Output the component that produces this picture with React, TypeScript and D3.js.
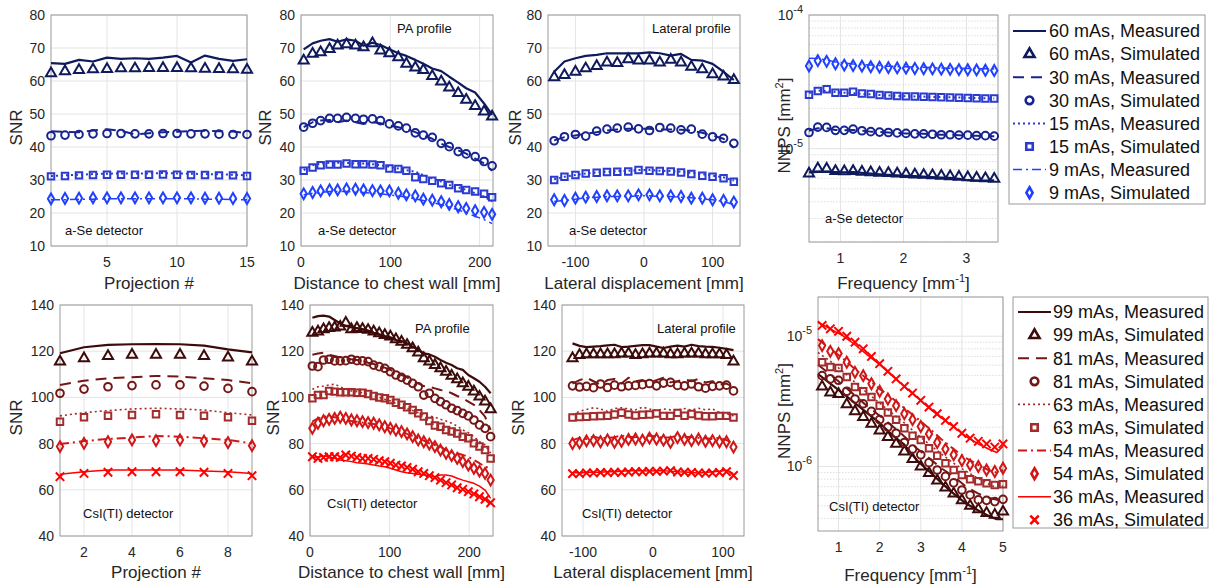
import React from 'react'
import * as d3 from 'd3'

const FONT = '"Liberation Sans", Arial, Helvetica, sans-serif'
const INK = '#262626'
const GRID = '#e4e4e4'
const FRAME = '#9a9a9a'

// ---- series meta ----
const aseDose = ['60', '30', '15', '9']
const csiDose = ['99', '81', '63', '54', '36']
const aseColors = ['#0f1a5c', '#17238e', '#2b3bd0', '#1f40ff']
const csiColors = ['#3e0b0b', '#731616', '#a32b2b', '#d01616', '#ff0000']

// ---- a-Se: SNR vs projection ----
const projA = [1, 2, 3, 4, 5, 6, 7, 8, 9, 10, 11, 12, 13, 14, 15]
const aseProjMeas = [
  [65.4, 65.2, 66.4, 65.9, 67.1, 66.7, 66.9, 66.7, 67.1, 67.6, 65.6, 67.7, 66.7, 66.1, 66.6],
  [44.8, 44.6, 44.5, 45.0, 45.4, 44.9, 43.8, 44.2, 44.5, 44.6, 44.8, 44.9, 44.8, 44.7, 44.2],
  [31.2, 31.4, 31.6, 31.8, 31.9, 32.0, 32.0, 32.0, 32.1, 32.0, 31.9, 31.8, 31.7, 31.6, 31.4],
  [24.0, 24.0, 24.2, 24.2, 24.3, 24.3, 24.3, 24.3, 24.3, 24.3, 24.3, 24.2, 24.2, 24.1, 24.0],
]
const aseProjSim = [
  [62.3, 62.9, 63.3, 63.5, 63.6, 63.8, 63.8, 63.9, 63.9, 63.9, 63.8, 63.7, 63.6, 63.5, 63.4],
  [43.4, 43.6, 43.8, 44.0, 44.1, 44.1, 44.0, 44.0, 44.1, 44.1, 44.0, 44.0, 43.9, 43.8, 43.8],
  [31.1, 31.2, 31.4, 31.5, 31.6, 31.6, 31.6, 31.6, 31.7, 31.6, 31.5, 31.5, 31.4, 31.4, 31.2],
  [24.3, 24.4, 24.5, 24.6, 24.6, 24.6, 24.6, 24.6, 24.6, 24.6, 24.6, 24.5, 24.5, 24.4, 24.4],
]

// ---- a-Se: PA profile ----
const paDistA = [3, 13, 22, 32, 41, 51, 61, 70, 80, 89, 99, 109, 118, 128, 137, 147, 157, 166, 176, 185, 195, 205, 214]
const asePaMeas = [
  [69.6, 71.4, 72.2, 72.7, 71.9, 72.6, 72.2, 70.7, 71.6, 70.9, 69.6, 68.4, 67.6, 66.4, 65.2, 63.8, 63.0, 61.3, 59.5, 57.8, 56.5, 53.2, 49.7],
  [46.0, 47.5, 48.0, 48.2, 47.5, 48.0, 47.5, 47.0, 47.5, 47.2, 46.5, 46.0, 45.5, 44.5, 43.5, 42.5, 41.0, 40.0, 39.0, 38.0, 36.5, 35.0, 32.8],
  [33.0, 34.5, 35.0, 35.2, 35.2, 35.2, 35.0, 35.0, 34.8, 34.5, 34.0, 33.5, 33.0, 32.5, 31.5, 30.5, 29.5, 28.5, 27.8, 27.0, 26.0, 25.0, 23.5],
  [25.5, 26.0, 26.2, 26.5, 26.5, 26.5, 26.3, 26.2, 26.0, 25.8, 25.5, 25.2, 24.8, 24.3, 23.8, 23.2, 22.5, 21.8, 21.0, 20.0, 19.0, 18.0, 16.8],
]
const asePaSim = [
  [66.2, 68.2, 68.7, 69.7, 70.7, 71.1, 70.7, 70.2, 71.4, 69.2, 68.4, 67.2, 65.2, 64.1, 63.3, 61.5, 59.8, 58.0, 56.3, 54.3, 52.4, 50.7, 49.2],
  [46.0, 47.2, 48.0, 48.7, 48.7, 49.0, 48.7, 48.4, 48.5, 48.0, 47.0, 46.4, 45.7, 44.3, 43.6, 42.9, 41.1, 40.1, 38.6, 37.9, 37.1, 35.6, 34.3],
  [32.8, 33.8, 34.5, 34.7, 34.7, 35.0, 34.8, 34.8, 34.7, 34.5, 33.5, 33.3, 32.8, 30.8, 30.3, 29.8, 29.0, 28.5, 27.5, 27.0, 26.5, 25.8, 24.8],
  [25.8, 26.2, 26.7, 27.0, 27.0, 27.3, 27.2, 27.0, 26.8, 26.7, 26.7, 26.0, 25.5, 25.2, 24.2, 23.9, 23.4, 22.6, 21.9, 21.4, 20.7, 20.2, 19.6],
]

// ---- a-Se: lateral profile ----
const latA = [-131, -116, -100, -85, -69, -54, -39, -23, -8, 8, 23, 39, 54, 69, 85, 100, 116, 131]
const aseLatMeas = [
  [62.8, 65.9, 66.9, 67.6, 67.9, 68.4, 68.4, 68.4, 68.4, 68.7, 68.4, 67.7, 68.2, 66.4, 66.2, 65.2, 62.8, 60.3],
  [42.0, 43.0, 43.5, 44.0, 44.5, 45.0, 45.3, 45.5, 45.5, 45.5, 45.3, 45.3, 45.2, 45.0, 44.3, 43.5, 42.5, 39.8],
  [30.2, 31.0, 31.5, 32.0, 32.3, 32.5, 32.7, 32.8, 33.0, 33.0, 32.8, 32.7, 32.5, 32.2, 31.8, 31.3, 30.8, 29.8],
  [23.5, 23.8, 24.2, 24.6, 24.8, 25.0, 25.0, 25.0, 25.2, 25.2, 25.0, 25.0, 24.8, 24.6, 24.3, 24.0, 23.5, 22.5],
]
const aseLatSim = [
  [61.1, 61.8, 62.8, 63.8, 64.5, 65.6, 65.4, 66.6, 66.2, 66.2, 65.6, 66.4, 65.6, 64.3, 63.5, 62.0, 61.3, 60.3],
  [41.9, 43.1, 43.8, 43.3, 44.8, 45.4, 45.7, 46.0, 45.5, 45.0, 45.9, 45.7, 45.2, 45.4, 43.9, 43.1, 42.6, 41.1],
  [30.0, 31.0, 31.5, 32.0, 32.2, 32.4, 32.5, 32.6, 33.0, 32.8, 32.7, 32.6, 32.3, 31.8, 31.3, 31.0, 30.5, 29.5],
  [24.0, 23.8, 24.5, 24.8, 25.0, 25.2, 25.2, 25.2, 25.5, 25.5, 25.2, 25.2, 25.0, 24.5, 24.5, 24.0, 23.8, 23.3],
]

// ---- a-Se: NNPS (units of 1e-6 mm^2) ----
const nnpsFreqA = [0.50, 0.64, 0.78, 0.92, 1.06, 1.20, 1.34, 1.48, 1.62, 1.76, 1.90, 2.04, 2.18, 2.32, 2.46, 2.60, 2.74, 2.88, 3.02, 3.16, 3.30, 3.44]
const aseNnpsMeas = [
  [6.65, 6.70, 6.72, 6.68, 6.65, 6.68, 6.58, 6.50, 6.42, 6.36, 6.30, 6.26, 6.22, 6.18, 6.12, 6.08, 6.04, 5.95, 5.80, 5.75, 5.75, 5.78],
  [13.6, 14.2, 14.2, 13.8, 13.7, 13.8, 13.6, 13.4, 13.3, 13.2, 13.1, 13.0, 13.0, 12.9, 12.8, 12.7, 12.7, 12.6, 12.5, 12.5, 12.4, 12.4],
  [26.0, 27.2, 27.0, 26.5, 26.2, 26.0, 25.7, 25.5, 25.2, 25.0, 24.8, 24.7, 24.6, 24.5, 24.4, 24.3, 24.2, 24.1, 24.0, 23.9, 23.8, 23.7],
  [47.5, 47.2, 46.2, 44.5, 43.8, 43.0, 42.5, 42.2, 41.8, 41.4, 41.2, 41.0, 40.8, 40.6, 40.4, 40.2, 40.0, 39.9, 39.8, 39.7, 39.6, 39.5],
]
const aseNnpsSim = [
  [6.5, 7.1, 7.05, 6.8, 6.75, 6.8, 6.7, 6.65, 6.6, 6.55, 6.5, 6.45, 6.4, 6.35, 6.3, 6.25, 6.2, 6.15, 6.1, 6.05, 6.0, 5.95],
  [13.2, 14.5, 14.4, 13.7, 13.7, 14.0, 13.6, 13.4, 13.3, 13.2, 13.1, 13.0, 12.9, 12.9, 12.8, 12.7, 12.7, 12.6, 12.6, 12.5, 12.5, 12.4],
  [25.3, 27.0, 27.8, 26.2, 26.2, 26.6, 25.8, 25.6, 25.2, 25.0, 24.8, 24.6, 24.5, 24.4, 24.3, 24.2, 24.1, 24.0, 23.9, 23.8, 23.7, 23.7],
  [41.5, 45.5, 45.0, 43.2, 42.2, 41.8, 41.4, 41.0, 40.7, 40.4, 40.2, 40.0, 39.8, 39.6, 39.5, 39.3, 39.2, 39.0, 38.9, 38.8, 38.6, 38.4],
]

// ---- CsI: SNR vs projection ----
const projB = [1, 2, 3, 4, 5, 6, 7, 8, 9]
const csiProjMeas = [
  [119.1, 121.7, 122.7, 123.0, 123.1, 123.0, 122.4, 120.8, 119.5],
  [105.4, 107.2, 108.3, 108.7, 109.3, 109.0, 108.3, 107.5, 106.1],
  [92.0, 93.4, 94.3, 95.0, 95.3, 95.0, 94.5, 93.4, 92.4],
  [79.8, 81.1, 82.0, 82.6, 83.3, 83.0, 82.3, 81.6, 80.1],
  [66.7, 67.8, 68.6, 68.6, 68.6, 68.6, 68.1, 67.8, 67.1],
]
const csiProjSim = [
  [115.5, 116.9, 117.9, 118.4, 118.4, 118.4, 117.9, 117.2, 115.5],
  [101.8, 103.6, 104.6, 105.1, 105.4, 105.4, 104.9, 103.9, 102.5],
  [89.5, 91.4, 92.1, 92.4, 92.7, 92.4, 92.1, 91.4, 89.9],
  [78.7, 80.1, 80.8, 81.6, 81.3, 81.6, 81.1, 80.4, 79.1],
  [65.7, 67.1, 67.6, 67.8, 67.8, 67.8, 67.6, 67.1, 66.1],
]

// ---- CsI: PA profile ----
const paDistB = [3, 10, 17, 24, 31, 38, 45, 52, 59, 66, 73, 80, 87, 94, 101, 108, 115, 122, 129, 136, 143, 150, 157, 164, 171, 178, 185, 192, 199, 206, 213, 220, 227]
const csiPaMeas = [
  [134.5, 135.2, 135.4, 135.0, 133.5, 132.0, 130.9, 130.3, 130.0, 129.6, 128.9, 128.0, 127.3, 126.6, 126.0, 124.8, 124.4, 123.4, 122.0, 120.5, 119.1, 118.6, 117.6, 116.2, 115.0, 114.0, 112.6, 111.9, 109.7, 108.3, 106.8, 104.6, 101.8],
  [118.5, 119.0, 119.4, 118.4, 117.9, 117.3, 116.9, 116.5, 116.2, 115.8, 115.0, 114.5, 113.6, 112.9, 111.9, 110.7, 109.7, 108.7, 107.2, 106.1, 104.9, 104.6, 103.9, 103.2, 102.8, 101.8, 100.6, 99.6, 98.2, 96.8, 94.5, 91.7, 85.9],
  [103.5, 104.6, 104.9, 105.4, 105.7, 104.6, 103.5, 102.8, 102.5, 102.0, 101.3, 100.6, 100.0, 99.2, 98.5, 97.4, 96.3, 95.3, 94.3, 93.4, 92.4, 92.0, 91.4, 90.5, 89.8, 88.8, 87.6, 85.9, 84.7, 83.0, 80.8, 79.4, 75.8],
  [89.5, 90.9, 91.7, 91.7, 91.4, 90.9, 90.2, 89.8, 89.5, 89.1, 88.8, 88.5, 88.1, 87.3, 86.6, 85.9, 85.2, 84.2, 83.3, 82.3, 81.3, 80.1, 79.4, 78.7, 77.2, 76.2, 75.8, 75.1, 74.3, 72.9, 71.5, 70.0, 69.3],
  [74.0, 74.3, 74.6, 74.3, 73.6, 72.9, 72.6, 72.2, 71.7, 71.5, 71.2, 70.7, 70.3, 70.0, 69.3, 68.6, 67.8, 67.4, 67.1, 66.7, 66.4, 66.0, 65.7, 66.4, 66.4, 66.0, 65.0, 64.2, 63.5, 62.8, 61.6, 59.9, 56.3],
]
const csiPaSim = [
  [128.0, 128.5, 129.5, 130.0, 130.2, 130.6, 132.3, 129.5, 130.0, 129.6, 129.2, 128.5, 127.7, 127.0, 126.3, 125.1, 124.1, 122.7, 121.2, 119.4, 116.9, 115.5, 114.0, 112.6, 111.1, 109.3, 107.8, 106.1, 104.6, 102.5, 100.3, 98.2, 94.8],
  [113.6, 113.3, 116.2, 116.5, 115.8, 115.8, 115.9, 116.5, 115.9, 115.8, 115.5, 114.0, 113.3, 112.6, 111.1, 109.7, 108.7, 107.5, 106.1, 104.6, 101.0, 101.8, 99.6, 98.2, 96.8, 95.3, 94.3, 93.1, 92.0, 90.2, 88.1, 86.6, 83.0],
  [99.6, 101.0, 101.0, 102.8, 102.5, 102.2, 102.2, 102.2, 102.0, 102.0, 101.5, 100.6, 100.0, 99.6, 98.9, 97.7, 96.8, 95.7, 94.5, 93.1, 91.7, 89.8, 87.8, 87.3, 85.9, 85.2, 84.4, 83.0, 82.3, 80.1, 78.7, 77.2, 73.6],
  [86.6, 88.8, 89.9, 90.5, 90.9, 91.4, 90.9, 90.2, 89.9, 89.5, 89.1, 88.8, 88.1, 87.3, 86.6, 85.9, 85.2, 84.2, 83.0, 81.6, 80.8, 79.8, 78.7, 77.2, 75.8, 74.8, 73.6, 72.2, 70.7, 69.3, 68.1, 67.1, 64.2],
  [74.3, 73.6, 74.0, 74.3, 74.3, 74.0, 75.1, 74.6, 74.0, 73.6, 73.6, 73.2, 72.6, 72.2, 71.5, 70.7, 70.3, 69.7, 68.9, 67.8, 67.1, 66.1, 65.3, 64.2, 63.1, 62.1, 60.9, 60.2, 59.2, 58.2, 57.0, 55.9, 54.4],
]

// ---- CsI: lateral profile ----
const latB = [-115, -105, -95, -85, -75, -65, -55, -45, -35, -25, -15, -5, 5, 15, 25, 35, 45, 55, 65, 75, 85, 95, 105, 115]
const csiLatMeas = [
  [123.4, 122.3, 121.8, 122.0, 122.2, 122.5, 122.8, 121.8, 122.0, 122.3, 122.6, 122.6, 122.0, 121.4, 122.0, 122.4, 122.0, 122.8, 122.2, 122.0, 121.9, 121.5, 121.0, 120.5],
  [106.0, 107.5, 108.5, 107.0, 105.5, 107.5, 108.0, 106.0, 108.5, 107.0, 107.5, 106.5, 107.5, 108.5, 106.5, 107.0, 107.8, 107.0, 108.0, 106.5, 107.0, 105.5, 106.0, 104.5],
  [92.5, 94.0, 94.8, 95.5, 95.0, 94.0, 95.2, 95.5, 95.0, 94.6, 95.8, 95.0, 94.3, 95.0, 94.6, 94.5, 95.2, 94.5, 95.3, 94.6, 95.0, 93.5, 93.0, 92.0],
  [81.5, 82.5, 82.0, 83.0, 82.3, 82.5, 82.8, 83.5, 83.0, 82.8, 83.2, 83.5, 83.0, 82.5, 82.8, 83.3, 82.7, 83.0, 82.5, 82.3, 82.0, 82.5, 81.5, 80.0],
  [67.5, 67.3, 67.5, 67.6, 67.6, 67.8, 67.8, 68.0, 68.2, 68.3, 68.2, 68.1, 68.3, 68.3, 68.0, 67.8, 67.7, 67.5, 67.3, 67.5, 67.8, 68.0, 68.5, 67.0],
]
const csiLatSim = [
  [116.9, 118.3, 118.6, 118.6, 118.6, 118.6, 118.6, 119.0, 119.0, 118.3, 118.6, 119.0, 119.0, 119.0, 118.6, 118.6, 119.0, 119.0, 119.0, 118.6, 118.6, 118.6, 118.3, 115.5],
  [105.0, 104.5, 104.8, 104.2, 105.8, 104.3, 105.3, 104.6, 105.0, 105.2, 105.5, 106.0, 105.0, 106.2, 106.5, 105.2, 105.0, 105.8, 104.6, 104.0, 104.8, 105.0, 105.3, 102.8],
  [91.3, 91.5, 91.6, 91.8, 91.9, 92.1, 92.6, 93.4, 92.6, 92.2, 92.5, 92.6, 93.0, 92.0, 92.0, 93.3, 92.1, 92.8, 92.2, 91.8, 91.8, 92.0, 92.0, 91.3],
  [80.0, 80.3, 81.2, 81.3, 80.8, 81.6, 80.6, 81.0, 81.8, 82.0, 81.5, 82.4, 82.0, 81.5, 80.5, 82.6, 81.8, 81.3, 82.0, 81.0, 81.3, 80.8, 80.8, 78.5],
  [67.0, 67.0, 67.3, 67.3, 67.5, 67.4, 67.6, 67.5, 67.7, 67.9, 67.8, 68.0, 68.0, 68.1, 68.3, 67.7, 67.6, 67.5, 67.3, 67.2, 67.3, 67.5, 67.8, 66.2],
]

// ---- CsI: NNPS (units of 1e-6 mm^2) ----
const nnpsFreqB = [0.6, 0.8, 1.0, 1.2, 1.4, 1.6, 1.8, 2.0, 2.2, 2.4, 2.6, 2.8, 3.0, 3.2, 3.4, 3.6, 3.8, 4.0, 4.2, 4.4, 4.6, 4.8, 5.0]
const nnpsMeasFreqB = [0.5, 0.8, 1.1, 1.4, 1.7, 2.0, 2.3, 2.6, 2.9, 3.2, 3.5, 3.8, 4.1, 4.4, 4.7, 4.85, 5.0]
const csiNnpsMeas = [
  [5.13, 4.32, 3.66, 3.07, 2.57, 2.16, 1.75, 1.47, 1.12, 0.92, 0.75, 0.62, 0.52, 0.46, 0.41, 0.394, 0.394],
  [6.05, 5.07, 4.25, 3.5, 2.9, 2.45, 2.06, 1.70, 1.38, 1.16, 0.97, 0.84, 0.70, 0.62, 0.57, 0.555, 0.57],
  [7.5, 6.43, 5.38, 4.43, 3.66, 3.07, 2.57, 2.16, 1.78, 1.49, 1.25, 1.06, 0.92, 0.81, 0.72, 0.69, 0.71],
  [9.5, 8.0, 6.8, 5.6, 4.7, 3.94, 3.36, 2.81, 2.36, 1.97, 1.62, 1.36, 1.16, 1.03, 0.92, 0.90, 0.94],
  [12.8, 11.4, 10.1, 8.6, 7.2, 6.05, 4.98, 4.12, 3.41, 2.81, 2.36, 2.01, 1.70, 1.49, 1.34, 1.28, 1.43],
]
const csiNnpsSim = [
  [4.1, 3.7, 3.6, 3.0, 2.65, 2.4, 2.13, 1.89, 1.68, 1.49, 1.30, 1.14, 1.0, 0.89, 0.78, 0.69, 0.62, 0.55, 0.50, 0.47, 0.44, 0.425, 0.45],
  [4.98, 4.7, 4.59, 3.78, 3.3, 3.03, 2.65, 2.29, 2.01, 1.80, 1.53, 1.36, 1.23, 1.07, 0.94, 0.84, 0.75, 0.66, 0.605, 0.554, 0.55, 0.538, 0.56],
  [6.31, 5.8, 5.7, 4.86, 4.07, 3.78, 3.41, 2.93, 2.6, 2.29, 1.97, 1.72, 1.6, 1.38, 1.21, 1.06, 0.94, 0.86, 0.80, 0.77, 0.745, 0.72, 0.73],
  [8.47, 7.66, 7.36, 6.31, 5.28, 4.98, 4.32, 3.78, 3.3, 2.93, 2.54, 2.29, 2.03, 1.78, 1.53, 1.36, 1.23, 1.11, 1.03, 1.0, 0.94, 0.915, 0.97],
  [12.1, 11.4, 10.9, 10.0, 9.0, 8.0, 7.0, 6.16, 5.38, 4.7, 4.12, 3.66, 3.22, 2.86, 2.54, 2.26, 2.03, 1.80, 1.65, 1.56, 1.49, 1.41, 1.49],
]

// ---- styles ----
type Shape = 'triangle' | 'circle' | 'square' | 'diamond' | 'x'
const aseShapes: Shape[] = ['triangle', 'circle', 'square', 'diamond']
const csiShapes: Shape[] = ['triangle', 'circle', 'square', 'diamond', 'x']
const DASH: Record<string, string | undefined> = { solid: undefined, dashed: '11,7', dotted: '2,3', dashdot: '9,4,2,4' }
const aseDashes = ['solid', 'dashed', 'dotted', 'dashdot']
const csiDashes = ['solid', 'dashed', 'dotted', 'dashdot', 'solid']
const aseWidths = [2.2, 2, 2, 1.5]
const csiWidths = [2.2, 2, 1.6, 2, 1.5]

function markerPath(shape: Shape): string {
  if (shape === 'triangle') return d3.symbol(d3.symbolTriangle, 44)() as string
  if (shape === 'circle') return d3.symbol(d3.symbolCircle, 46)() as string
  if (shape === 'square') return d3.symbol(d3.symbolSquare, 42)() as string
  if (shape === 'diamond') return d3.symbol(d3.symbolDiamond, 34)() as string
  const a = 4.2
  return `M${-a},${-a}L${a},${a}M${-a},${a}L${a},${-a}`
}

const sup = (base: string, s: string, after = '') => (
  <>
    {base}
    <tspan dy={-7} fontSize={11}>{s}</tspan>
    <tspan dy={7}>{after}</tspan>
  </>
)

type Note = { text: string; x: number; y: number }
interface PanelSpec {
  box: [number, number, number, number]
  xDomain: [number, number]
  xTicks: number[]
  yDomain: [number, number]
  yTicks: number[]
  log?: boolean
  xs: number[]
  xsMeas: number[]
  meas: number[][]
  sim: number[][]
  colors: string[]
  dashes: string[]
  widths: number[]
  shapes: Shape[]
  xLabel: React.ReactNode
  xLabelY: number
  yLabel: React.ReactNode
  yLabelX: number
  notes: Note[]
}

function Panel({ p }: { p: PanelSpec }) {
  const [x0, y0, x1, y1] = p.box
  const x = d3.scaleLinear().domain(p.xDomain).range([x0, x1])
  const y = p.log
    ? d3.scaleLog().domain(p.yDomain).range([y1, y0])
    : d3.scaleLinear().domain(p.yDomain).range([y1, y0])
  const minor = p.log ? (y as d3.ScaleLogarithmic<number, number>).ticks().filter(v => !p.yTicks.includes(v)) : []
  const cy = (y0 + y1) / 2 - 3
  const cx = (x0 + x1) / 2

  return (
    <g fontFamily={FONT} fill={INK}>
      <rect x={x0} y={y0} width={x1 - x0} height={y1 - y0} fill="#fff" />
      {minor.map(v => (
        <line key={'m' + v} x1={x0} x2={x1} y1={y(v)} y2={y(v)} stroke="#d6d6d6" strokeWidth={0.8} strokeDasharray="1.5,1.5" />
      ))}
      {p.yTicks.map(v => (
        <line key={'gy' + v} x1={x0} x2={x1} y1={y(v)} y2={y(v)} stroke={GRID} strokeWidth={1} />
      ))}
      {p.xTicks.map(v => (
        <line key={'gx' + v} x1={x(v)} x2={x(v)} y1={y0} y2={y1} stroke={GRID} strokeWidth={1} />
      ))}
      <rect x={x0} y={y0} width={x1 - x0} height={y1 - y0} fill="none" stroke={FRAME} strokeWidth={1} />

      {p.meas.map((vals, i) => {
        const line = d3.line<number>().x((_, k) => x(p.xsMeas[k])).y(v => y(v))
        return (
          <path key={'l' + i} d={line(vals) || ''} fill="none" stroke={p.colors[i]} strokeWidth={p.widths[i]}
            strokeDasharray={DASH[p.dashes[i]]} strokeLinejoin="round" />
        )
      })}
      {p.sim.map((vals, i) => {
        const d = markerPath(p.shapes[i])
        return (
          <g key={'s' + i}>
            {vals.map((v, k) => (
              <path key={k} d={d} transform={`translate(${x(p.xs[k])},${y(v)})`} fill="none"
                stroke={p.colors[i]} strokeWidth={2} />
            ))}
          </g>
        )
      })}

      {p.yTicks.map(v => (
        <text key={'ty' + v} x={x0 - 6} y={y(v)} dy="0.35em" textAnchor="end" fontSize={14}>
          {p.log ? sup('10', String(Math.round(Math.log10(v)) - 6)) : v}
        </text>
      ))}
      {p.xTicks.map(v => (
        <text key={'tx' + v} x={x(v)} y={y1 + 21} textAnchor="middle" fontSize={14}>{v}</text>
      ))}
      <text x={cx} y={p.xLabelY} textAnchor="middle" fontSize={17}>{p.xLabel}</text>
      <text transform={`translate(${p.yLabelX},${cy}) rotate(-90)`} textAnchor="middle" fontSize={17}>{p.yLabel}</text>
      {p.notes.map(n => (
        <text key={n.text} x={n.x} y={n.y} fontSize={13} fill="#111">{n.text}</text>
      ))}
    </g>
  )
}

function Legend({ box, row0, gap, lineX, textX, doses, colors, dashes, widths, shapes }: {
  box: [number, number, number, number]; row0: number; gap: number; lineX: [number, number]; textX: number
  doses: string[]; colors: string[]; dashes: string[]; widths: number[]; shapes: Shape[]
}) {
  const [x0, y0, x1, y1] = box
  const mx = (lineX[0] + lineX[1]) / 2
  return (
    <g fontFamily={FONT}>
      <rect x={x0} y={y0} width={x1 - x0} height={y1 - y0} fill="#fff" stroke={FRAME} strokeWidth={1} />
      {doses.map((d, i) => {
        const ya = row0 + gap * 2 * i
        const yb = ya + gap
        return (
          <g key={d}>
            <line x1={lineX[0]} x2={lineX[1]} y1={ya} y2={ya} stroke={colors[i]} strokeWidth={widths[i]}
              strokeDasharray={DASH[dashes[i]]} />
            <text x={textX} y={ya} dy="0.35em" fontSize={18} fill="#111">{`${d} mAs, Measured`}</text>
            <path d={markerPath(shapes[i])} transform={`translate(${mx},${yb})`} fill="none" stroke={colors[i]} strokeWidth={2.6} />
            <text x={textX} y={yb} dy="0.35em" fontSize={18} fill="#111">{`${d} mAs, Simulated`}</text>
          </g>
        )
      })}
    </g>
  )
}

const aseCommon = { colors: aseColors, dashes: aseDashes, widths: aseWidths, shapes: aseShapes }
const csiCommon = { colors: csiColors, dashes: csiDashes, widths: csiWidths, shapes: csiShapes }
const snrTicksA = [10, 20, 30, 40, 50, 60, 70, 80]
const snrTicksB = [40, 60, 80, 100, 120, 140]

const panels: PanelSpec[] = [
  {
    box: [51, 15, 247, 246], xDomain: [1, 15], xTicks: [5, 10, 15], yDomain: [10, 80], yTicks: snrTicksA,
    xs: projA, xsMeas: projA, meas: aseProjMeas, sim: aseProjSim, ...aseCommon,
    xLabel: 'Projection #', xLabelY: 289, yLabel: 'SNR', yLabelX: 22,
    notes: [{ text: 'a-Se detector', x: 65, y: 235 }],
  },
  {
    box: [301, 15, 493, 246], xDomain: [0, 215], xTicks: [0, 100, 200], yDomain: [10, 80], yTicks: snrTicksA,
    xs: paDistA, xsMeas: paDistA, meas: asePaMeas, sim: asePaSim, ...aseCommon,
    xLabel: 'Distance to chest wall [mm]', xLabelY: 289, yLabel: 'SNR', yLabelX: 271,
    notes: [{ text: 'PA profile', x: 397, y: 33 }, { text: 'a-Se detector', x: 318, y: 235 }],
  },
  {
    box: [548, 15, 740, 246], xDomain: [-140, 140], xTicks: [-100, 0, 100], yDomain: [10, 80], yTicks: snrTicksA,
    xs: latA, xsMeas: latA, meas: aseLatMeas, sim: aseLatSim, ...aseCommon,
    xLabel: 'Lateral displacement [mm]', xLabelY: 289, yLabel: 'SNR', yLabelX: 521,
    notes: [{ text: 'Lateral profile', x: 652, y: 33 }, { text: 'a-Se detector', x: 569, y: 235 }],
  },
  {
    box: [809, 15, 998, 242], xDomain: [0.5, 3.5], xTicks: [1, 2, 3], yDomain: [2, 100], yTicks: [10, 100], log: true,
    xs: nnpsFreqA, xsMeas: nnpsFreqA, meas: aseNnpsMeas, sim: aseNnpsSim, ...aseCommon,
    xLabel: sup('Frequency [mm', '-1', ']'), xLabelY: 289, yLabel: sup('NNPS [mm', '2', ']'), yLabelX: 790,
    notes: [{ text: 'a-Se detector', x: 825, y: 223 }],
  },
  {
    box: [60, 305, 252, 536], xDomain: [1, 9], xTicks: [2, 4, 6, 8], yDomain: [40, 140], yTicks: snrTicksB,
    xs: projB, xsMeas: projB, meas: csiProjMeas, sim: csiProjSim, ...csiCommon,
    xLabel: 'Projection #', xLabelY: 578, yLabel: 'SNR', yLabelX: 22,
    notes: [{ text: 'CsI(TI) detector', x: 83, y: 518 }],
  },
  {
    box: [310, 305, 493, 536], xDomain: [0, 230], xTicks: [0, 100, 200], yDomain: [40, 140], yTicks: snrTicksB,
    xs: paDistB, xsMeas: paDistB, meas: csiPaMeas, sim: csiPaSim, ...csiCommon,
    xLabel: 'Distance to chest wall [mm]', xLabelY: 578, yLabel: 'SNR', yLabelX: 279,
    notes: [{ text: 'PA profile', x: 415, y: 333 }, { text: 'CsI(TI) detector', x: 327, y: 508 }],
  },
  {
    box: [562, 305, 744, 536], xDomain: [-130, 130], xTicks: [-100, 0, 100], yDomain: [40, 140], yTicks: snrTicksB,
    xs: latB, xsMeas: latB, meas: csiLatMeas, sim: csiLatSim, ...csiCommon,
    xLabel: 'Lateral displacement [mm]', xLabelY: 578, yLabel: 'SNR', yLabelX: 524,
    notes: [{ text: 'Lateral profile', x: 657, y: 333 }, { text: 'CsI(TI) detector', x: 582, y: 518 }],
  },
  {
    box: [818, 297, 1003, 531], xDomain: [0.5, 5], xTicks: [1, 2, 3, 4, 5], yDomain: [0.32, 20], yTicks: [1, 10], log: true,
    xs: nnpsFreqB, xsMeas: nnpsMeasFreqB, meas: csiNnpsMeas, sim: csiNnpsSim, ...csiCommon,
    xLabel: sup('Frequency [mm', '-1', ']'), xLabelY: 581, yLabel: sup('NNPS [mm', '2', ']'), yLabelX: 790,
    notes: [{ text: 'CsI(TI) detector', x: 829, y: 511 }],
  },
]

export default function App() {
  return (
    <div style={{ position: 'absolute', left: 0, top: 0, background: '#fff' }}>
      <svg width={1215} height={587} viewBox="0 0 1215 587" style={{ display: 'block' }}>
        <rect width={1215} height={587} fill="#fff" />
        {panels.map((p, i) => <Panel key={i} p={p} />)}
        <Legend box={[1009, 15, 1205, 204]} row0={31} gap={23.1} lineX={[1013, 1046]} textX={1049}
          doses={aseDose} {...aseCommon} />
        <Legend box={[1013, 297, 1208, 528]} row0={312} gap={23.1} lineX={[1018, 1051]} textX={1053}
          doses={csiDose} {...csiCommon} />
      </svg>
    </div>
  )
}
